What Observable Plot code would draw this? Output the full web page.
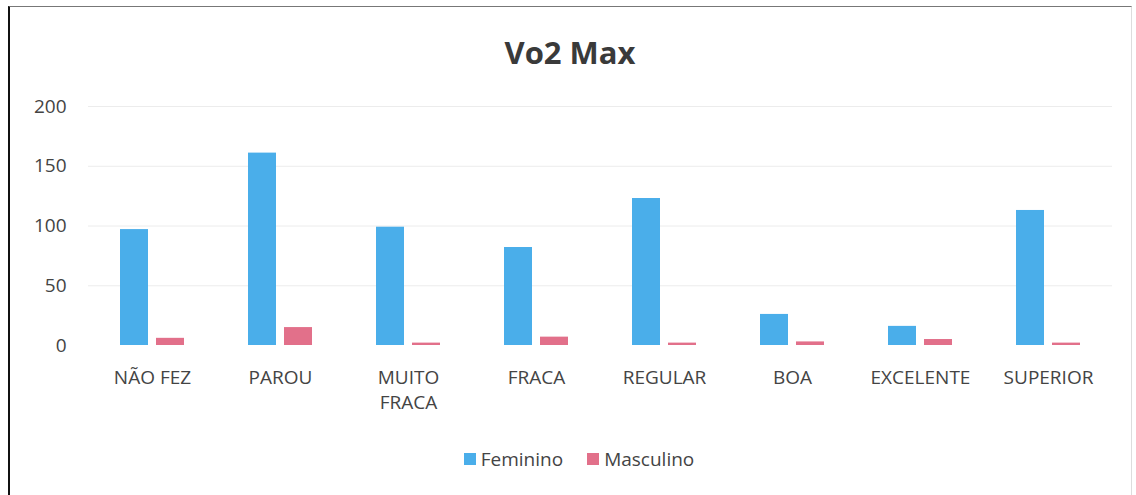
<!DOCTYPE html>
<html><head><meta charset="utf-8">
<script src="https://cdn.jsdelivr.net/npm/d3@7"></script>
<script src="https://cdn.jsdelivr.net/npm/@observablehq/plot@0.6"></script>
<style>
body{margin:0;background:#fff;width:1136px;height:495px;overflow:hidden;position:relative;font-family:"Open Sans",sans-serif;}
#frame{position:absolute;left:8px;top:6px;width:1124px;height:500px;border-left:2px solid #111;border-top:1px solid #777;border-right:1px solid #ddd;box-sizing:border-box;}
#title{position:absolute;left:2px;width:1136px;top:31px;text-align:center;font-weight:700;font-size:31px;color:#3a3a3a;line-height:42px;}
#chart{position:absolute;left:0;top:80px;}
#legend{position:absolute;top:446px;left:11px;width:1136px;display:flex;justify-content:center;gap:24px;font-size:19px;color:#444;line-height:26px;}
#legend span.item{display:flex;align-items:center;gap:5px;}
#legend span.sw{display:inline-block;width:12px;height:12px;}
</style>
</head><body>
<div id="frame"></div>
<div id="title">Vo2 Max</div>
<div id="chart"></div>
<div id="legend"></div>
<script>
const categories = ["NÃO FEZ","PAROU","MUITO FRACA","FRACA","REGULAR","BOA","EXCELENTE","SUPERIOR"];
const feminino = [97,161,99,82,123,26,16,113];
const masculino = [6,15,2,7,2,3,5,2];
const series = ["Feminino","Masculino"];
const colors = ["#4aaeea","#e2708a"];
const yTicks = [0,50,100,150,200];

const data = categories.flatMap((c,i)=>[
  {cat:c, serie:series[0], value:feminino[i]},
  {cat:c, serie:series[1], value:masculino[i]}
]);

const chart = Plot.plot({
  width:1136, height:370,
  marginTop:26, marginBottom:105, marginLeft:85, marginRight:21.5,
  style:{fontFamily:'"Open Sans",sans-serif', fontSize:"19px", color:"#444", background:"transparent"},
  fx:{domain:categories, padding:0, label:null},
  x:{domain:series, paddingInner:0.23, paddingOuter:0.87, axis:null},
  y:{domain:[0,200], ticks:yTicks, label:null},
  color:{domain:series, range:colors},
  marks:[
    Plot.ruleY(yTicks.slice(1), {stroke:"#ececec"}),
    Plot.barY(data, {fx:"cat", x:"serie", y:"value", fill:"serie"}),
    Plot.axisY({ticks:yTicks, tickSize:0, tickPadding:22, label:null, fontSize:19}),
    Plot.axisFx({anchor:"bottom", tickSize:0, tickPadding:20, label:null, fontSize:19, lineHeight:1.35,
      tickFormat: d => d === "MUITO FRACA" ? "MUITO\nFRACA" : d})
  ]
});
document.getElementById("chart").appendChild(chart);

const legend = document.getElementById("legend");
series.forEach((s,i)=>{
  const item = document.createElement("span");
  item.className = "item";
  const sw = document.createElement("span");
  sw.className = "sw";
  sw.style.background = colors[i];
  const t = document.createElement("span");
  t.textContent = s;
  item.appendChild(sw); item.appendChild(t);
  legend.appendChild(item);
});
</script>
</body></html>
